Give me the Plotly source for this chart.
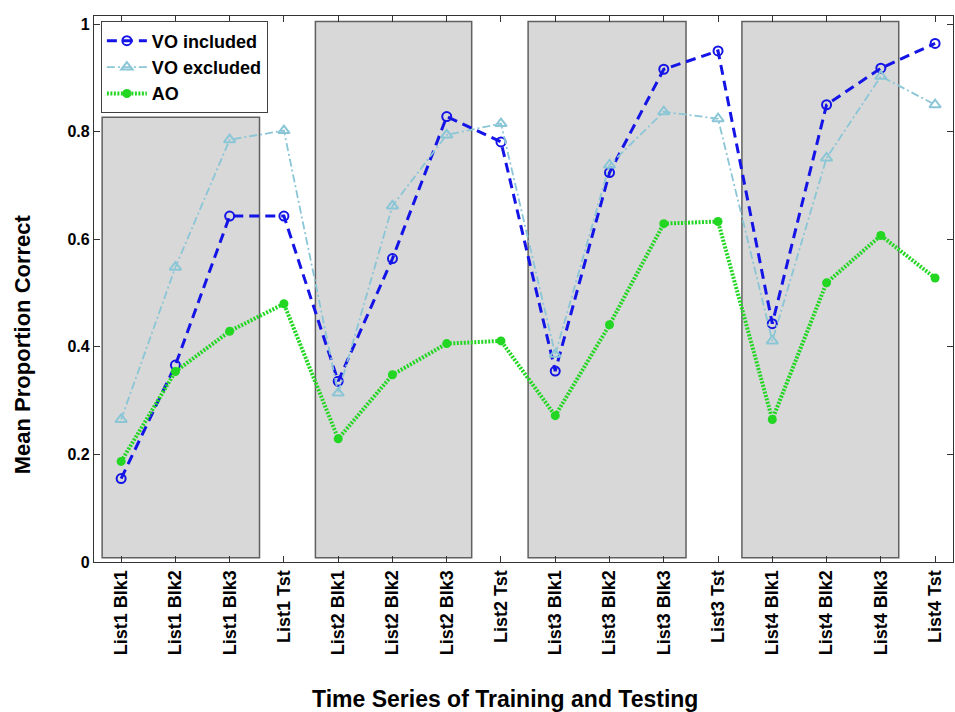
import plotly.graph_objects as go

# Session labels along the x axis
sessions = [
    "List1 Blk1", "List1 Blk2", "List1 Blk3", "List1 Tst",
    "List2 Blk1", "List2 Blk2", "List2 Blk3", "List2 Tst",
    "List3 Blk1", "List3 Blk2", "List3 Blk3", "List3 Tst",
    "List4 Blk1", "List4 Blk2", "List4 Blk3", "List4 Tst",
]
positions = list(range(1, len(sessions) + 1))

# Mean proportion correct per condition
vo_included = [0.155, 0.366, 0.643, 0.643, 0.336, 0.564, 0.828, 0.781,
               0.355, 0.724, 0.916, 0.950, 0.443, 0.850, 0.918, 0.964]
vo_excluded = [0.265, 0.548, 0.785, 0.802, 0.314, 0.662, 0.794, 0.815,
               0.386, 0.738, 0.837, 0.824, 0.411, 0.751, 0.903, 0.850]
ao = [0.187, 0.354, 0.429, 0.480, 0.229, 0.348, 0.406, 0.411,
      0.272, 0.441, 0.629, 0.633, 0.265, 0.519, 0.607, 0.528]

# Training blocks, shaded: (x0, x1, y0, y1)
training_blocks = [
    (0.65, 3.55, 0.008, 0.827),
    (4.58, 7.46, 0.008, 1.005),
    (8.50, 11.41, 0.008, 1.005),
    (12.44, 15.33, 0.008, 1.005),
]

FONT = "Liberation Sans, Arial, sans-serif"

fig = go.Figure()

fig.add_trace(go.Scatter(
    x=positions, y=vo_included, name="VO included", mode="lines+markers",
    line=dict(color="#1414e6", width=3, dash="10px,6px"),
    marker=dict(symbol="circle-open", size=9, color="#1414e6",
                line=dict(width=2, color="#1414e6")),
))
fig.add_trace(go.Scatter(
    x=positions, y=vo_excluded, name="VO excluded", mode="lines+markers",
    line=dict(color="#8ac6d6", width=1.8, dash="8px,3px,2px,3px"),
    marker=dict(symbol="triangle-up-open", size=10, color="#8ac6d6",
                line=dict(width=2, color="#8ac6d6")),
))
fig.add_trace(go.Scatter(
    x=positions, y=ao, name="AO", mode="lines+markers",
    line=dict(color="#22d622", width=4, dash="2px,1.5px"),
    marker=dict(symbol="circle", size=9, color="#22d622"),
))

for x0, x1, y0, y1 in training_blocks:
    fig.add_shape(type="rect", xref="x", yref="y", x0=x0, x1=x1, y0=y0, y1=y1,
                  fillcolor="#d8d8d8", line=dict(color="#606060", width=1.5),
                  layer="below")

# Axis titles placed as annotations
fig.add_annotation(text="<b>Time Series of Training and Testing</b>",
                   xref="paper", yref="paper", x=0.4788, y=-0.2516,
                   xanchor="center", yanchor="middle", showarrow=False,
                   font=dict(family=FONT, size=23, color="black"))
fig.add_annotation(text="<b>Mean Proportion Correct</b>",
                   xref="paper", yref="paper", x=-0.0832, y=0.398,
                   xanchor="center", yanchor="middle", showarrow=False,
                   textangle=-90,
                   font=dict(family=FONT, size=22, color="black"))

fig.update_layout(
    width=955, height=712,
    margin=dict(l=94, r=2, t=16, b=150, autoexpand=False),
    plot_bgcolor="white", paper_bgcolor="white",
    font=dict(family=FONT, size=14, color="black"),
    showlegend=True,
    legend=dict(
        x=0.008, y=0.99, xanchor="left", yanchor="top",
        bgcolor="white", bordercolor="#404040", borderwidth=1,
        font=dict(family=FONT, size=18, color="black", weight="bold"),
        tracegroupgap=0, itemwidth=40,
    ),
)

fig.update_xaxes(
    range=[0.5, 16.33], tickmode="array", tickvals=positions, ticktext=sessions,
    tickangle=-90, ticks="inside", ticklen=6, tickcolor="#333",
    showline=True, linecolor="#333", linewidth=1.2, mirror="ticks",
    showgrid=False, zeroline=False, automargin=False,
    tickfont=dict(family=FONT, size=18, weight="bold"),
)
fig.update_yaxes(
    range=[0, 1.015], tickvals=[0, 0.2, 0.4, 0.6, 0.8, 1],
    ticktext=["0", "0.2", "0.4", "0.6", "0.8", "1"],
    ticks="inside", ticklen=6, tickcolor="#333",
    showline=True, linecolor="#333", linewidth=1.2, mirror="ticks",
    showgrid=False, zeroline=False, automargin=False,
    tickfont=dict(family=FONT, size=16, weight="bold"),
)

fig.write_html("out.html")
